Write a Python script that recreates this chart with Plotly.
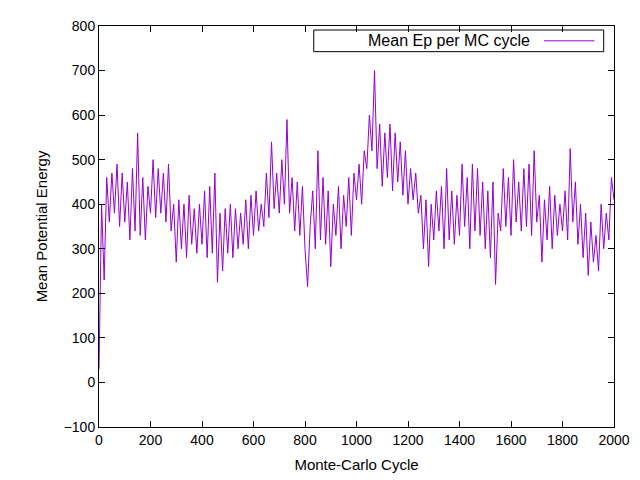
import plotly.graph_objects as go

cycles = list(range(0, 2001, 10))
mean_ep = [
    30, 400, 230, 460, 360, 470, 380, 490, 350, 470,
    360, 450, 320, 480, 340, 560, 330, 460, 320, 440,
    380, 500, 370, 480, 380, 470, 360, 490, 340, 400,
    270, 410, 300, 400, 280, 420, 310, 390, 290, 400,
    310, 430, 280, 440, 290, 470, 225, 380, 250, 390,
    290, 400, 280, 390, 300, 380, 310, 410, 300, 420,
    330, 430, 340, 400, 350, 470, 370, 540, 390, 470,
    380, 500, 400, 590, 380, 460, 340, 450, 330, 440,
    300, 215, 350, 430, 300, 520, 320, 460, 310, 430,
    260, 400, 330, 440, 300, 420, 350, 460, 330, 470,
    410, 490, 400, 520, 480, 600, 520, 700, 480, 580,
    440, 560, 460, 580, 430, 560, 450, 540, 420, 520,
    400, 480, 410, 470, 380, 420, 300, 410, 260, 400,
    320, 430, 340, 440, 300, 480, 320, 430, 310, 420,
    330, 490, 350, 460, 300, 490, 340, 480, 330, 450,
    300, 430, 280, 450, 220, 380, 340, 480, 350, 460,
    330, 500, 360, 450, 340, 480, 350, 490, 330, 520,
    360, 420, 270, 410, 320, 440, 300, 420, 330, 400,
    340, 430, 320, 525, 360, 450, 310, 400, 280, 380,
    240, 360, 270, 330, 250, 400, 300, 380, 320, 460, 410,
]

fig = go.Figure()
fig.add_trace(go.Scatter(x=cycles, y=mean_ep, mode="lines",
                         line=dict(color="#9400d3", width=1), showlegend=False))

axis = dict(showgrid=False, zeroline=False, showline=True, linecolor="black",
            mirror="ticks", ticks="inside", ticklen=6, tickcolor="black",
            automargin=False, tickfont=dict(size=14, color="black"))
fig.update_layout(
    width=640, height=480,
    margin=dict(l=91, r=34, t=18, b=61),
    plot_bgcolor="white", paper_bgcolor="white",
    font=dict(family="Liberation Sans, Arial, sans-serif", color="black"),
    xaxis=dict(axis, range=[0, 2000], dtick=200,
               title=dict(text="Monte-Carlo Cycle", font=dict(size=15), standoff=12)),
    yaxis=dict(axis, range=[-100, 800], dtick=100,
               title=dict(text="Mean Potential Energy", font=dict(size=15), standoff=12)),
)
# legend box drawn like gnuplot's (key text on the left, sample on the right)
fig.add_shape(type="rect", xref="paper", yref="paper", x0=0.417, x1=0.980,
              y0=0.936, y1=0.990, line=dict(color="black", width=1))
fig.add_shape(type="line", xref="paper", yref="paper", x0=0.864, x1=0.962,
              y0=0.963, y1=0.963, line=dict(color="#9400d3", width=1))
fig.add_annotation(xref="paper", yref="paper", x=0.840, y=0.963, xanchor="right",
                   yanchor="middle", text="Mean Ep per MC cycle", showarrow=False,
                   font=dict(size=16))

fig.write_html("out.html")
